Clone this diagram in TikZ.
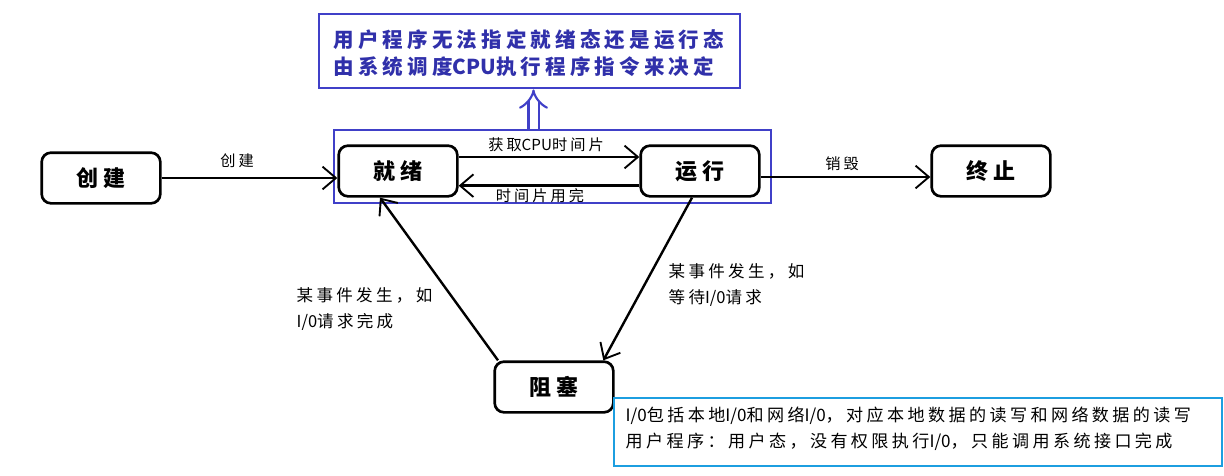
\documentclass[tikz,border=0pt]{standalone}
\usepackage{fontspec}
\setmainfont{Noto Sans CJK SC}[LetterSpace=20]
\usetikzlibrary{arrows.meta}
\definecolor{groupblue}{RGB}{64,64,200}
\definecolor{noteblue}{RGB}{48,48,170}
\definecolor{infocyan}{RGB}{28,158,224}
\newcommand\lat[1]{{\addfontfeature{LetterSpace=0}#1}}
\tikzset{
  state/.style={draw, line width=2pt, rounded corners=7pt, minimum width=89pt, minimum height=38pt, font=\fontsize{16.5}{20}\selectfont\bfseries},
  arr/.style={line width=1.8pt, -{Straight Barb[length=10pt,width=17pt,line width=1.4pt]}},
  lbl/.style={font=\fontsize{11.4}{13}\selectfont},
  side/.style={align=left, anchor=west, font=\fontsize{12.4}{19.5}\selectfont},
}
\begin{document}
\begin{tikzpicture}[x=0.75pt,y=-0.75pt]
\useasboundingbox (0,0) rectangle (1224,475);
% states
\node[state] (create) at (101,178) {创建};
\node[state] (ready) at (398,171) {就绪};
\node[state] (running) at (700,171) {运行};
\node[state] (stop) at (991,171) {终止};
\node[state] (blocked) at (554,387) {阻塞};
% blue boxes
\node[draw=groupblue, line width=2pt, minimum width=327.75pt, minimum height=54.75pt] (group) at (552.5,166.5) {};
\node[draw=groupblue, line width=2pt, minimum width=315.75pt, minimum height=55.5pt] (note) at (529.5,51) {};
\node[anchor=west, align=left, text=noteblue, font=\fontsize{15.4}{20.25}\selectfont\bfseries] (notetext) at (329,53.5)
  {用户程序无法指定就绪态还是运行态\\由系统调度\lat{CPU}执行程序指令来决定};
\draw[groupblue, line width=1.6pt, double=white, double distance=6pt, -{Implies[scale=1.5]}] ([xshift=3pt]note.south |- group.north) -- ([xshift=3pt]note.south);
% transitions
\draw[arr] (create) -- (create -| ready.west);
\node[lbl] (lcreate) at (237,161) {创建};
\draw[arr] ([yshift=10.5pt]ready.east) -- ([yshift=10.5pt]running.west);
\node[lbl] (lget) at (546,145) {获取\lat{CPU}时间片};
\draw[arr] ([yshift=-11pt]running.west) -- ([yshift=-11pt]ready.east);
\node[lbl] (lslice) at (540,196) {时间片用完};
\draw[arr] ([yshift=-4.5pt]running.east) -- ([yshift=-4.5pt]stop.west);
\node[lbl] (ldestroy) at (842,164) {销毁};
\draw[arr] ([xshift=-6pt]running.south) -- ([xshift=37pt]blocked.north);
\node[side] (lwait) at (664,285) {某事件发生，如\\等待\lat{I/0}请求};
\draw[arr] ([xshift=-42pt]blocked.north) -- ([xshift=-13.5pt]ready.south);
\node[side] (ldone) at (292,309) {某事件发生，如\\\lat{I/0}请求完成};
% io note
\node[draw=infocyan, line width=2pt, minimum width=456pt, minimum height=51pt] (info) at (918,432) {};
\node[anchor=west, align=left, font=\fontsize{12.8}{19.5}\selectfont] (infotext) at (621,429)
  {\lat{I/0}包括本地\lat{I/0}和网络\lat{I/0}，对应本地数据的读写和网络数据的读写\\用户程序：用户态，没有权限执行\lat{I/0}，只能调用系统接口完成};
\end{tikzpicture}
\end{document}
